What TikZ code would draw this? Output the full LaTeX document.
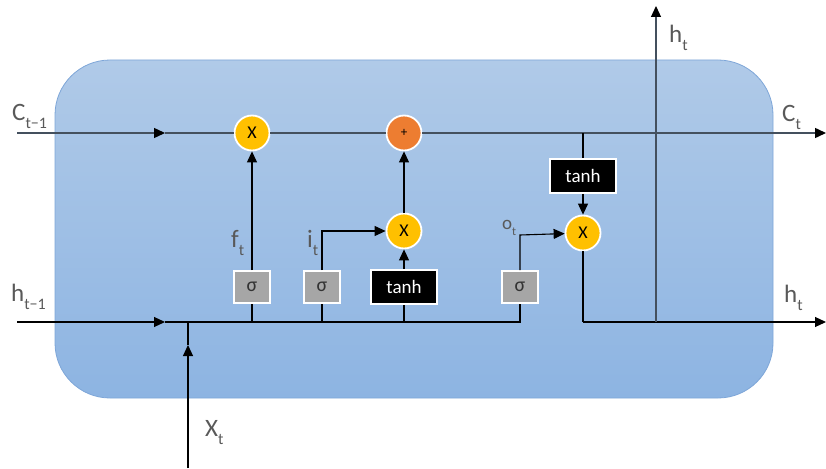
\documentclass[tikz,border=0pt]{standalone}
\usepackage{fontspec}
\setmainfont{Carlito}
\usetikzlibrary{arrows.meta}
\definecolor{cellTop}{HTML}{B0CAE8}
\definecolor{cellBot}{HTML}{8DB4E2}
\definecolor{cellEdge}{HTML}{7EA6D8}
\definecolor{gateY}{HTML}{FFC000}
\definecolor{gateO}{HTML}{ED7D31}
\definecolor{sigGray}{HTML}{A6A6A6}
\definecolor{lblGray}{HTML}{595959}
\definecolor{cLine}{HTML}{44505E}
\tikzset{
  x=1pt,y=-1pt,
  tip/.style={-{Triangle[length=11pt,width=10pt,color=black]}},
  opgate/.style={circle,draw=white,line width=1.8pt,minimum size=35pt,inner sep=0pt,font=\fontsize{18}{18}\selectfont},
  mulgate/.style={opgate,fill=gateY},
  addgate/.style={opgate,fill=gateO},
  sigbox/.style={rectangle,draw=white,line width=1.8pt,fill=sigGray,minimum width=36pt,minimum height=32pt,inner sep=0pt,font=\fontsize{20}{20}\selectfont,text=black!80},
  tanhbox/.style={rectangle,draw=white,line width=1.8pt,fill=black,minimum width=66pt,minimum height=34pt,inner sep=0pt,font=\fontsize{19}{19}\selectfont,text=white},
  lbl/.style={text=lblGray,font=\fontsize{25}{25}\selectfont,inner sep=0pt},
  flow/.style={line width=1.1pt,black},
  cflow/.style={line width=1.4pt,cLine},
}
\newcommand{\sub}[2]{#1\raisebox{-8pt}{\fontsize{16}{16}\selectfont #2}}
\begin{document}
\begin{tikzpicture}
\useasboundingbox (0,0) rectangle (826,468);
% cell
\shade[top color=cellTop,bottom color=cellBot,draw=cellEdge,line width=0.8pt,rounded corners=55pt] (55,60) rectangle (773,398);

% gates
\node[mulgate] (mf) at (252,133) {X};
\node[addgate] (ad) at (404,133) {\fontsize{13}{13}\selectfont +};
\node[mulgate] (mi) at (404,231) {X};
\node[mulgate] (mo) at (583,233) {X};
\node[sigbox] (sf) at (252,287) {σ};
\node[sigbox] (si) at (322,287) {σ};
\node[tanhbox] (tc) at (404,287) {tanh};
\node[sigbox] (so) at (520,287) {σ};
\node[tanhbox] (tt) at (583,176) {tanh};

% coordinates
\coordinate (cin) at (17,133);
\coordinate (cmid) at (165,133);
\coordinate (cout) at (826,133);
\coordinate (ctap) at (583,133);
\coordinate (hin) at (17,322);
\coordinate (hmid) at (165,322);
\coordinate (hend) at (520,322);
\coordinate (xin) at (188,468);
\coordinate (xmid) at (188,345);
\coordinate (xj) at (188,322);
\coordinate (fj) at (252,322);
\coordinate (ij) at (322,322);
\coordinate (tj) at (404,322);
\coordinate (ib) at (322,231);
\coordinate (ob) at (520,235);
\coordinate (hc) at (583,322);
\coordinate (hout) at (826,322);
\coordinate (hv) at (656,322);
\coordinate (htop) at (656,6);

% cell state line
\draw[cflow,tip] (cin) -- (cmid);
\draw[cflow] (cmid) -- (mf) -- (ad) -- (ctap);
\draw[cflow,tip] (ctap) -- (cout);
\draw[flow] (ctap) -- (tt);
\draw[flow,tip] (tt) -- (mo);

% hidden input line
\draw[flow,tip] (hin) -- (hmid);
\draw[flow] (hmid) -- (hend) -- (so);
\draw[flow,tip] (xin) -- (xmid);
\draw[flow] (xmid) -- (xj);
\draw[flow] (fj) -- (sf);
\draw[flow] (ij) -- (si);
\draw[flow] (tj) -- (tc);

% gate outputs
\draw[flow,tip] (sf) -- (mf);
\draw[flow,tip] (si) -- (ib) -- (mi);
\draw[flow,tip] (tc) -- (mi);
\draw[flow,tip] (mi) -- (ad);
\draw[flow,tip] (so) -- (ob) -- (mo);

% output
\draw[flow] (mo) -- (hc);
\draw[flow,tip] (hc) -- (hout);
\draw[cflow,line width=1.2pt,tip] (hv) -- (htop);

% labels
\node[lbl,anchor=west] (lc0) at (12,116) {\sub{C}{t−1}};
\node[lbl,anchor=west] (lh0) at (11,297) {\sub{h}{t−1}};
\node[lbl,anchor=west] (lf) at (231,243) {\sub{f}{t}};
\node[lbl,anchor=west] (li) at (307,243) {\sub{i}{t}};
\node[lbl,anchor=west,font=\fontsize{19}{19}\selectfont] (lo) at (502,228) {o\raisebox{-6pt}{\fontsize{12}{12}\selectfont t}};
\node[lbl,anchor=west] (lht) at (669,38) {\sub{h}{t}};
\node[lbl,anchor=west] (lct) at (782,117) {\sub{C}{t}};
\node[lbl,anchor=west] (lhr) at (784,298) {\sub{h}{t}};
\node[lbl,anchor=west] (lx) at (205,433) {\sub{X}{t}};
\end{tikzpicture}
\end{document}
